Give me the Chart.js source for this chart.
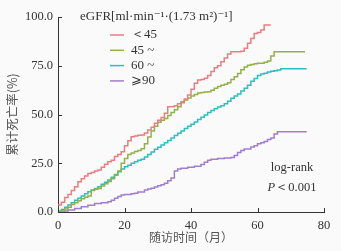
<!DOCTYPE html>
<html>
<head>
<meta charset="utf-8">
<script src="https://cdn.jsdelivr.net/npm/chart.js@4"></script>
<style>
  html, body { margin: 0; padding: 0; background: #fafafa; }
  #wrap { width: 341px; height: 251px; }
</style>
</head>
<body>
<div id="wrap"><canvas id="kmChart"></canvas></div>
<script>
// eGFR groups
const groupLabels = ['＜45', '45 ~', '60 ~', '⩾90'];
const groupColors = ['#e67f80', '#93b148', '#2cbfbf', '#a17dd2'];

// follow-up months (x) and cumulative mortality % (y)
const timeLt45 = [0,1,2,3,4,5,6,7,8,9,10,11,12,13,14,15,16,17,18,19,20,21,22,23,24,25,26,27,28,29,30,31,32,33,34,35,36,37,38,39,40,41,42,43,44,45,46,47,48,49,50,51,52,53,54,55,56,57,58,59,60,61,62,63,64];
const mortLt45 = [3.6,5,7.5,9,11,13,15.5,17,18.5,19.8,20.3,21,21.5,23,24.5,25.8,26.5,28.4,29.5,30.9,34,36.5,38.6,39,39.3,39.5,40.5,42,43.5,45.5,47,48.5,50.6,54,54,54.5,55.5,56.5,58,60,63,66,67.7,68,68.6,70,72,74,75,77,79,81,82.2,82.2,82.2,82.5,84,86.5,89,91.6,92,93.3,95.9,95.9,95.9];

const time45 = [0,1,2,3,4,5,6,7,8,9,10,11,12,13,14,15,16,17,18,19,20,21,22,23,24,25,26,27,28,29,30,31,32,33,34,35,36,37,38,39,40,41,42,43,44,45,46,47,48,49,50,51,52,53,54,55,56,57,58,59,60,61,62,63,64,65,74.3];
const mort45 = [0,0.7,1.5,2.5,3.8,4.8,5.8,6.8,7.6,8.2,11,11.7,12.1,13.3,14.5,15.6,17,18.8,21,25,27.5,29.5,30.3,31,31.5,32.5,35,38.5,41.5,44,46,47,48,49.5,51,52.5,54,56,57.5,58.5,59.5,60.3,61,61.3,61.5,61.7,62.5,63.5,64.3,65,65.5,66.3,68,69.4,71,73,74.3,75.2,75.6,76,76.3,76.3,76.8,77.5,80,82.2,82.2];

const time60 = [0,1,2,3,4,5,6,7,8,9,10,11,12,13,14,15,16,17,18,19,20,21,22,23,24,25,26,27,28,29,30,31,32,33,34,35,36,37,38,39,40,41,42,43,44,45,46,47,48,49,50,51,52,53,54,55,56,57,58,59,60,61,62,63,64,65,66,67,74.8];
const mort60 = [0.5,1.3,2.5,3.6,4.8,6,7,8.2,9.3,10.4,11.3,12.1,13,14.2,15.3,16.4,17.8,19.2,20.7,22,23.2,24,25,25.8,26.5,27,28.2,29.5,30.8,32.2,33.2,34.4,35.5,36.7,38,39.2,40.4,41.6,42.8,44,45,46.2,47.4,48.6,49.8,51,52,53,53.8,54.5,55.5,56.8,58.3,59.5,60.5,62,63.5,65,67,68.5,70,70.8,71.2,71.8,72.2,72.5,72.8,73.5,73.5];

const time90 = [0,2,3,5,7,9,11,13,15,16,17,18,19,20,22,23,24,26,27,28,29,30,31,32,33,34,35,36,37,39,41,43,44,45,46,48,50,52,53,54,55,56,58,59,60,61,62,63,64,65,66,74.8];
const mort90 = [0,0.5,1,1.8,2.7,3.5,4.4,4.8,5.3,6,7,8,8.7,9,9.4,9.6,10.2,11.3,11.8,12.2,12.8,13.5,14,14.8,16,17.5,21,22,22.4,23,23.5,24.3,25.5,26.5,27,27.4,27.7,27.9,29,30.5,31.5,32.3,33.3,34,35,35.5,36.2,37.2,38,40,41.2,41.2];

const xTicks = [0, 20, 40, 60, 80];
const yTicks = [0, 25, 50, 75, 100];

const legendTitle = 'eGFR[ml·min⁻¹·(1.73 m²)⁻¹]';
const noteLines = ['log-rank', 'P', '＜0.001'];

const serif = '"Liberation Serif", "DejaVu Serif", serif';
const cjk = '"Noto Sans CJK SC", sans-serif';
const ink = '#333';

function pts(ts, vs) {
  return ts.map((t, i) => ({ x: t, y: vs[i] }));
}

const series = [[timeLt45, mortLt45], [time45, mort45], [time60, mort60], [time90, mort90]];

// legend + note + inward ticks
const extras = {
  id: 'extras',
  afterDraw(chart) {
    const ctx = chart.ctx;
    const xs = chart.scales.x, ys = chart.scales.y;
    const area = chart.chartArea;
    ctx.save();
    ctx.strokeStyle = ink;
    ctx.lineWidth = 1;
    xTicks.forEach(v => {
      const px = Math.round(xs.getPixelForValue(v)) + 0.5;
      ctx.beginPath(); ctx.moveTo(px, area.bottom); ctx.lineTo(px, area.bottom - 4); ctx.stroke();
    });
    yTicks.forEach(v => {
      const py = Math.round(ys.getPixelForValue(v)) + 0.5;
      ctx.beginPath(); ctx.moveTo(area.left, py); ctx.lineTo(area.left + 4, py); ctx.stroke();
    });

    ctx.fillStyle = ink;
    ctx.textBaseline = 'middle';
    ctx.textAlign = 'left';
    ctx.font = '13px ' + serif;
    ctx.fillText(legendTitle, 80, 17);
    chart.data.datasets.forEach((ds, i) => {
      const y = 35 + i * 15.3;
      ctx.strokeStyle = ds.borderColor;
      ctx.lineWidth = 1.5;
      ctx.beginPath(); ctx.moveTo(110, y); ctx.lineTo(124, y); ctx.stroke();
      ctx.fillStyle = ink;
      ctx.fillText(ds.label, 131, y);
    });

    ctx.font = '12.5px ' + serif;
    ctx.textAlign = 'center';
    ctx.fillText(noteLines[0], 292, 168);
    ctx.font = 'italic 12.5px ' + serif;
    const pw = ctx.measureText(noteLines[1]).width;
    ctx.font = '12.5px ' + serif;
    const rw = ctx.measureText(noteLines[2]).width;
    const x0 = 292 - (pw + rw) / 2;
    ctx.textAlign = 'left';
    ctx.font = 'italic 12.5px ' + serif;
    ctx.fillText(noteLines[1], x0, 188);
    ctx.font = '12.5px ' + serif;
    ctx.fillText(noteLines[2], x0 + pw, 188);
    ctx.restore();
  }
};

new Chart(document.getElementById('kmChart'), {
  type: 'line',
  data: {
    datasets: series.map((s, i) => ({
      label: groupLabels[i],
      data: pts(s[0], s[1]),
      borderColor: groupColors[i],
      borderWidth: 1.5,
      pointRadius: 0,
      stepped: true,
      fill: false
    }))
  },
  options: {
    responsive: true,
    maintainAspectRatio: false,
    animation: false,
    layout: { padding: { left: 0, right: 17, top: 17, bottom: 4 } },
    plugins: { legend: { display: false }, tooltip: { enabled: false } },
    scales: {
      x: {
        type: 'linear',
        min: 0, max: 80,
        afterBuildTicks: s => { s.ticks = xTicks.map(v => ({ value: v })); },
        afterFit: s => { s.height = 35; },
        grid: { drawOnChartArea: false, drawTicks: false },
        border: { color: ink, width: 1 },
        ticks: { color: ink, padding: 6, font: { family: serif, size: 12.5 } },
        title: { display: true, text: '随访时间（月）', color: '#555', padding: { top: 0, bottom: 2 }, font: { family: cjk, size: 12 } }
      },
      y: {
        min: 0, max: 100,
        afterBuildTicks: s => { s.ticks = yTicks.map(v => ({ value: v })); },
        afterFit: s => { s.width = 58; },
        grid: { drawOnChartArea: false, drawTicks: false },
        border: { color: ink, width: 1 },
        ticks: { color: ink, padding: 5, font: { family: serif, size: 12.5 }, callback: v => v.toFixed(1) },
        title: { display: true, text: '累计死亡率(%)', color: '#555', padding: { top: 5, bottom: 0 }, font: { family: cjk, size: 12.5 } }
      }
    }
  },
  plugins: [extras]
});
</script>
</body>
</html>
